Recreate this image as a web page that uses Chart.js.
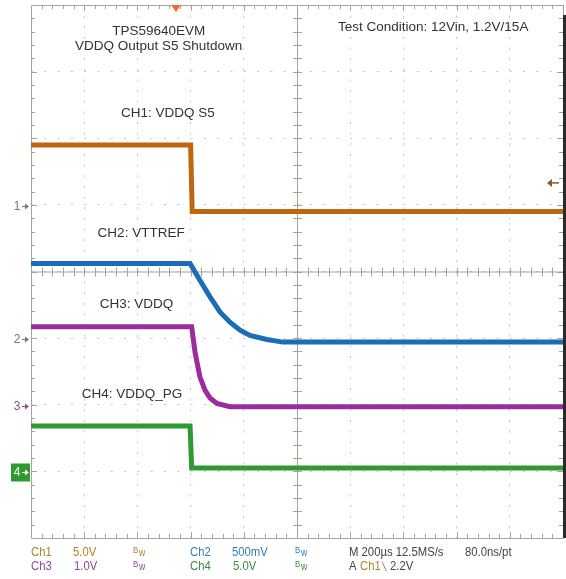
<!DOCTYPE html>
<html>
<head>
<meta charset="utf-8">
<script src="https://cdn.jsdelivr.net/npm/chart.js@4"></script>
<style>
  body { margin: 0; background: #fff; }
  #scope { display: block; }
</style>
</head>
<body>
<canvas id="scope" width="566" height="579"></canvas>
<script>
// tiempos en µs desde el borde izquierdo (200 µs/div, 10 div)
const ch1T = [0, 600, 606, 2000];
const ch1V = [4.5, 4.5, -0.5, -0.5];

const ch2T = [0, 598, 635, 673, 711, 748, 786, 823, 887, 947, 2000];
const ch2V = [0.56, 0.56, 0.435, 0.31, 0.195, 0.12, 0.06, 0.02, -0.01, -0.03, -0.03];

const ch3T = [0, 604, 617, 635, 654, 673, 699, 748, 2000];
const ch3V = [1.17, 1.17, 0.78, 0.42, 0.22, 0.1, 0.02, -0.03, -0.03];

const ch4T = [0, 598, 604, 2000];
const ch4V = [3.4, 3.4, 0.25, 0.25];

// escala V/div y posición de tierra (div desde abajo)
const canales = [
  { nombre: "1", t: ch1T, v: ch1V, vdiv: 5, offset: 5, color: "#bb6810" },
  { nombre: "2", t: ch2T, v: ch2V, vdiv: 0.5, offset: 3, color: "#1b6db8" },
  { nombre: "3", t: ch3T, v: ch3V, vdiv: 1, offset: 2, color: "#9a2c9f" },
  { nombre: "4", t: ch4T, v: ch4V, vdiv: 5, offset: 1, color: "#2f9a2f" },
];

const etiquetas = [
  { texto: "TPS59640EVM", t: 480, div: 7.6 },
  { texto: "VDDQ Output S5 Shutdown", t: 480, div: 7.38 },
  { texto: "Test Condition: 12Vin, 1.2V/15A", t: 1512, div: 7.67 },
  { texto: "CH1: VDDQ S5", t: 515, div: 6.37 },
  { texto: "CH2: VTTREF", t: 414, div: 4.58 },
  { texto: "CH3: VDDQ", t: 397, div: 3.51 },
  { texto: "CH4: VDDQ_PG", t: 380, div: 2.15 },
];

const nivelTrigger = 5.33; // div
const posTrigger = 545; // µs

function toDiv(c) {
  return c.t.map((t, i) => ({ x: t, y: c.offset + c.v[i] / c.vdiv }));
}

const graticula = {
  id: "graticula",
  beforeDatasetsDraw(chart) {
    const { ctx, chartArea: a, scales } = chart;
    const x = scales.x, y = scales.y;
    const cx = x.getPixelForValue(1000);
    const cy = y.getPixelForValue(4);
    const dx = (a.right - a.left) / 50;
    const dy = (a.bottom - a.top) / 40;
    ctx.save();
    ctx.strokeStyle = "#a4a49a";
    ctx.lineWidth = 1;
    ctx.beginPath();
    ctx.rect(a.left + 0.5, a.top + 0.5, a.right - a.left, a.bottom - a.top);
    ctx.moveTo(cx + 0.5, a.top);
    ctx.lineTo(cx + 0.5, a.bottom);
    ctx.moveTo(a.left, cy + 0.5);
    ctx.lineTo(a.right, cy + 0.5);
    for (let i = 1; i < 50; i++) {
      const px = Math.round(a.left + i * dx) + 0.5;
      const len = i % 5 === 0 ? 6 : 4;
      ctx.moveTo(px, a.top);
      ctx.lineTo(px, a.top + len);
      ctx.moveTo(px, a.bottom);
      ctx.lineTo(px, a.bottom - len);
      ctx.moveTo(px, cy - 4);
      ctx.lineTo(px, cy + 5);
    }
    for (let i = 1; i < 40; i++) {
      const py = Math.round(a.top + i * dy) + 0.5;
      const len = i % 5 === 0 ? 6 : 4;
      ctx.moveTo(a.left, py);
      ctx.lineTo(a.left + len, py);
      ctx.moveTo(a.right, py);
      ctx.lineTo(a.right - len, py);
      ctx.moveTo(cx - 4, py);
      ctx.lineTo(cx + 5, py);
    }
    ctx.stroke();
    // borde derecho oscuro
    ctx.fillStyle = "#2a2a2a";
    ctx.fillRect(a.right, a.top + 10, 4, a.bottom - a.top - 10);
    ctx.restore();
  },
  afterDatasetsDraw(chart) {
    const { ctx, chartArea: a, scales } = chart;
    const x = scales.x, y = scales.y;
    ctx.save();
    ctx.fillStyle = "#333";
    ctx.font = "13.5px 'Liberation Sans', Arial, sans-serif";
    ctx.textAlign = "center";
    ctx.textBaseline = "middle";
    etiquetas.forEach((e) => {
      ctx.fillText(e.texto, x.getPixelForValue(e.t), y.getPixelForValue(e.div));
    });

    // marcadores de tierra
    canales.forEach((c) => {
      const py = Math.round(y.getPixelForValue(c.offset)) + 1.5;
      if (c.nombre === "4") {
        ctx.fillStyle = "#2f9a2f";
        ctx.fillRect(11, py - 9, 19, 18);
        ctx.fillStyle = "#fff";
        ctx.strokeStyle = "#fff";
      } else {
        ctx.fillStyle = c.nombre === "3" ? "#8a4f8f" : "#777";
        ctx.strokeStyle = ctx.fillStyle;
      }
      ctx.font = "12px 'Liberation Sans', Arial, sans-serif";
      ctx.textAlign = "center";
      ctx.fillText(c.nombre, 17, py);
      ctx.lineWidth = 1;
      ctx.beginPath();
      ctx.moveTo(22, py);
      ctx.lineTo(28, py);
      ctx.stroke();
      ctx.beginPath();
      ctx.moveTo(29, py);
      ctx.lineTo(25, py - 3);
      ctx.lineTo(25, py + 3);
      ctx.closePath();
      ctx.fill();
    });

    // nivel de trigger
    const ty = y.getPixelForValue(nivelTrigger);
    ctx.strokeStyle = "#8a5a20";
    ctx.fillStyle = "#8a5a20";
    ctx.lineWidth = 1.5;
    ctx.beginPath();
    ctx.moveTo(a.right - 4, ty);
    ctx.lineTo(a.right - 14, ty);
    ctx.stroke();
    ctx.beginPath();
    ctx.moveTo(a.right - 16, ty);
    ctx.lineTo(a.right - 11, ty - 4);
    ctx.lineTo(a.right - 11, ty + 4);
    ctx.closePath();
    ctx.fill();

    // posición del trigger
    const tx = x.getPixelForValue(posTrigger);
    ctx.fillStyle = "#f06a3a";
    ctx.beginPath();
    ctx.moveTo(tx - 5, a.top);
    ctx.lineTo(tx + 5, a.top);
    ctx.lineTo(tx, a.top + 7);
    ctx.closePath();
    ctx.fill();
    ctx.restore();
  },
};

const estado = {
  id: "estado",
  afterDraw(chart) {
    const { ctx } = chart;
    const filas = [
      [
        { s: "Ch1", x: 31, c: "#a8862e" },
        { s: "5.0V", x: 73, c: "#a8862e" },
        { s: "Bw", x: 133, c: "#a8862e", bw: true },
        { s: "Ch2", x: 190, c: "#2f7fbf" },
        { s: "500mV", x: 232, c: "#2f7fbf" },
        { s: "Bw", x: 295, c: "#2f7fbf", bw: true },
        { s: "M 200\u00b5s 12.5MS/s", x: 349, c: "#444" },
        { s: "80.0ns/pt", x: 465, c: "#444" },
      ],
      [
        { s: "Ch3", x: 31, c: "#8b4a9a" },
        { s: "1.0V", x: 74, c: "#8b4a9a" },
        { s: "Bw", x: 133, c: "#8b4a9a", bw: true },
        { s: "Ch4", x: 190, c: "#3c8c3c" },
        { s: "5.0V", x: 233, c: "#3c8c3c" },
        { s: "Bw", x: 295, c: "#3c8c3c", bw: true },
        { s: "A", x: 349, c: "#444" },
        { s: "Ch1", x: 360, c: "#a8862e" },
        { s: "\u2572", x: 382, c: "#444", small: true },
        { s: "2.2V", x: 390, c: "#444" },
      ],
    ];
    ctx.save();
    ctx.textAlign = "left";
    ctx.textBaseline = "middle";
    filas.forEach((fila, i) => {
      const py = 552.5 + i * 14;
      fila.forEach((it) => {
        ctx.fillStyle = it.c;
        ctx.setTransform(0.87, 0, 0, 1, it.x, py);
        if (it.bw) {
          ctx.font = "9px 'Liberation Sans', Arial, sans-serif";
          ctx.fillText("B", 0, -2);
          ctx.font = "10px 'Liberation Sans', Arial, sans-serif";
          ctx.fillText("w", 7, 1);
        } else if (it.small) {
          ctx.font = "8px 'DejaVu Sans', sans-serif";
          ctx.fillText(it.s, 0, 0);
        } else {
          ctx.font = "13px 'Liberation Sans', Arial, sans-serif";
          ctx.fillText(it.s, 0, 0);
        }
      });
    });
    ctx.restore();
  },
};

new Chart(document.getElementById("scope"), {
  type: "line",
  data: {
    datasets: canales.map((c) => ({
      label: "CH" + c.nombre,
      data: toDiv(c),
      borderColor: c.color,
      borderWidth: 5,
      pointRadius: 0,
      tension: 0,
      fill: false,
    })),
  },
  options: {
    responsive: false,
    animation: false,
    layout: { padding: { left: 31, right: 3, top: 5, bottom: 41 } },
    plugins: { legend: { display: false }, tooltip: { enabled: false } },
    scales: {
      x: {
        type: "linear",
        min: 0,
        max: 2000,
        ticks: { display: false, stepSize: 200 },
        grid: { color: "#c4c4c4", drawTicks: false, tickLength: 0 },
        border: { display: false, dash: [2, 8.64] },
        afterFit: (s) => { s.height = 0; },
      },
      y: {
        min: 0,
        max: 8,
        ticks: { display: false, stepSize: 1 },
        grid: { color: "#c4c4c4", drawTicks: false, tickLength: 0 },
        border: { display: false, dash: [2, 11.3] },
        afterFit: (s) => { s.width = 0; },
      },
    },
  },
  plugins: [graticula, estado],
});
</script>
</body>
</html>
